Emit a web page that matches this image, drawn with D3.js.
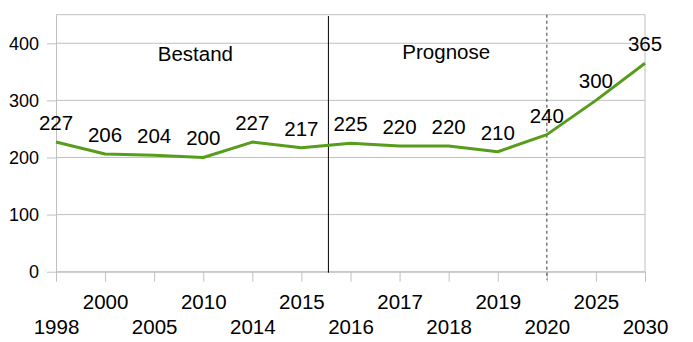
<!DOCTYPE html>
<html>
<head>
<meta charset="utf-8">
<script src="https://cdn.jsdelivr.net/npm/d3@7"></script>
<style>
  html, body { margin: 0; padding: 0; background: #fff; }
  svg { display: block; font-family: "Liberation Sans", Arial, sans-serif; }
</style>
</head>
<body>
<svg id="chart" width="693" height="342"></svg>
<script>
const years = ["1998","2000","2005","2010","2014","2015","2016","2017","2018","2019","2020","2025","2030"];
const values = [227, 206, 204, 200, 227, 217, 225, 220, 220, 210, 240, 300, 365];
const yTicks = [0, 100, 200, 300, 400];
const sections = ["Bestand", "Prognose"];

(function () {
const svg = d3.select("#chart");
const pLeft = 56, pRight = 645, pTop = 14.7, pBottom = 271.7;

const x = d3.scalePoint().domain(years).range([pLeft, pRight]);
const xi = d3.scaleLinear().domain([0, years.length - 1]).range([pLeft, pRight]);
const y = d3.scaleLinear().domain([0, 450]).range([pBottom, pTop]);

const grid = "#c0c0c0";

// horizontal gridlines
svg.append("g").selectAll("line").data(yTicks.concat([450])).join("line")
  .attr("x1", pLeft).attr("x2", pRight)
  .attr("y1", d => y(d)).attr("y2", d => y(d))
  .attr("stroke", grid).attr("stroke-width", 1);

// y axis
const yAxis = svg.append("g").attr("transform", `translate(${pLeft},0)`)
  .call(d3.axisLeft(y).tickValues(yTicks).tickSize(9).tickPadding(8).tickSizeOuter(0));
yAxis.select(".domain").attr("stroke", grid);
yAxis.selectAll(".tick line").attr("stroke", grid);
yAxis.selectAll("text").attr("font-size", 18).attr("fill", "#000")
  .attr("font-family", "Liberation Sans, Arial, sans-serif");

// right border
svg.append("line").attr("x1", pRight).attr("x2", pRight).attr("y1", pTop).attr("y2", pBottom)
  .attr("stroke", grid);

// x axis
const xAxis = svg.append("g").attr("transform", `translate(0,${pBottom})`)
  .call(d3.axisBottom(x).tickSize(10).tickSizeOuter(0));
xAxis.select(".domain").attr("stroke", grid);
xAxis.selectAll(".tick line").attr("stroke", grid);
xAxis.selectAll("text").attr("font-size", 20.5).attr("fill", "#000")
  .attr("font-family", "Liberation Sans, Arial, sans-serif")
  .attr("dy", null)
  .attr("y", (d, i) => i % 2 === 0 ? 62 : 37);

// separator lines
svg.append("line")
  .attr("x1", xi(5.55)).attr("x2", xi(5.55))
  .attr("y1", 16).attr("y2", pBottom + 1)
  .attr("stroke", "#000").attr("stroke-width", 1);
svg.append("line")
  .attr("x1", x("2020")).attr("x2", x("2020"))
  .attr("y1", pTop).attr("y2", pBottom + 8)
  .attr("stroke", "#555").attr("stroke-width", 1.2)
  .attr("stroke-dasharray", "3,3");

// section labels
svg.append("text").attr("x", xi(2.84)).attr("y", 60.5)
  .attr("text-anchor", "middle").attr("font-size", 20.5).text(sections[0]);
svg.append("text").attr("x", xi(7.95)).attr("y", 59)
  .attr("text-anchor", "middle").attr("font-size", 20.5).text(sections[1]);

// line
const data = years.map((yr, i) => ({ yr, v: values[i] }));
svg.append("path").datum(data)
  .attr("fill", "none").attr("stroke", "#579d1c").attr("stroke-width", 3)
  .attr("stroke-linejoin", "round")
  .attr("d", d3.line().x(d => x(d.yr)).y(d => y(d.v)));

// data labels
svg.append("g").selectAll("text").data(data).join("text")
  .attr("x", d => x(d.yr)).attr("y", d => y(d.v) - 12)
  .attr("text-anchor", "middle").attr("font-size", 20.5).attr("fill", "#000")
  .text(d => d.v);
})();
</script>
</body>
</html>
